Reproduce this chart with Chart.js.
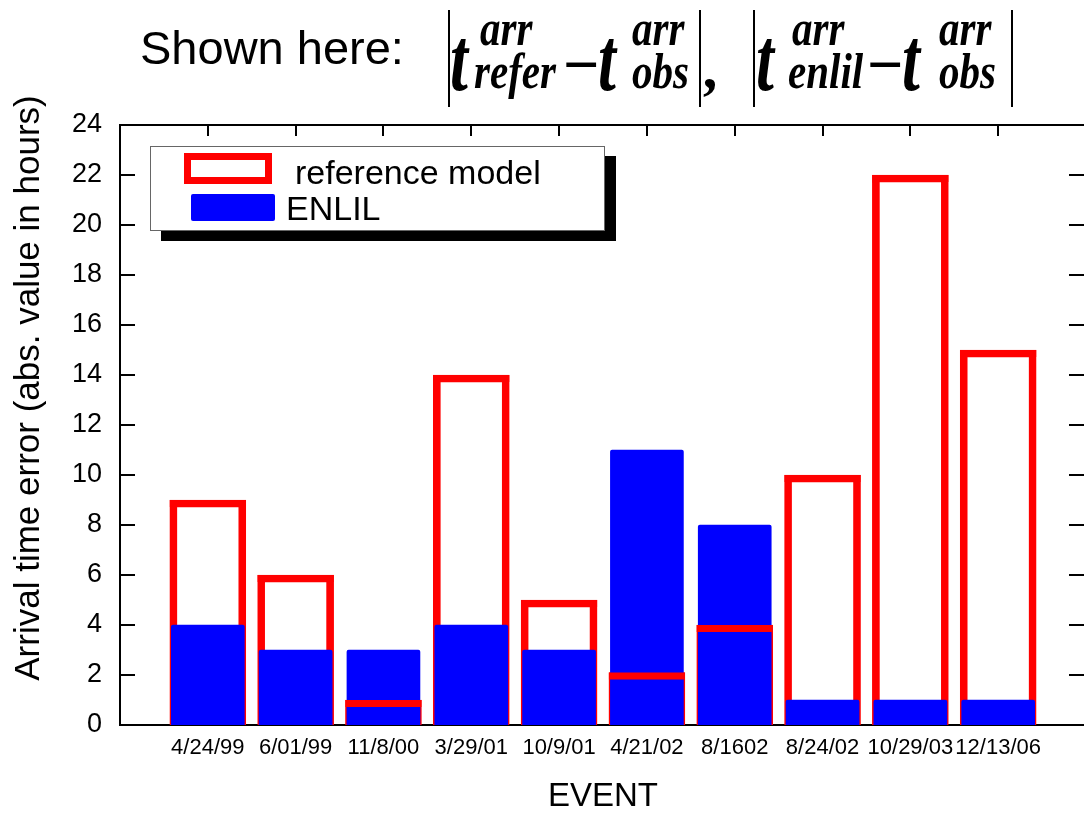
<!DOCTYPE html>
<html>
<head>
<meta charset="utf-8">
<script src="https://cdn.jsdelivr.net/npm/chart.js@4.4.1/dist/chart.umd.min.js"></script>
<style>
  body { margin: 0; width: 1084px; height: 813px; overflow: hidden; position: relative; background: #fff; }
  #wrap { position: absolute; left: 0; top: 0; }
  .txt { position: absolute; line-height: 1; white-space: nowrap; color: #000; }
  .sans { font-family: "Liberation Sans", Arial, sans-serif; }
  .m { font-family: "Liberation Serif", "Times New Roman", serif; font-style: italic; font-weight: bold; }
  .t { font-size: 92px; transform: scaleX(0.7); transform-origin: left top; }
  .s { font-size: 50px; transform: scaleX(0.82); transform-origin: left top; }
  .op { font-family: "Liberation Serif", "Times New Roman", serif; font-size: 64px; font-weight: bold; }
  .abs { position: absolute; top: 10px; height: 97px; border-left: 2px solid #000; }
  #ytitle { position: absolute; left: -273px; top: 368px; width: 600px; height: 40px; line-height: 40px;
    text-align: center; font-size: 35px; transform: rotate(-90deg); white-space: nowrap; }
  #legend { position: absolute; left: 150px; top: 146px; width: 455px; height: 85px; box-sizing: border-box;
    border: 1px solid #666; background: #fff; box-shadow: 11px 10px 0 #000; }
  #legend .sw { position: absolute; box-sizing: border-box; }
  #legend .lb { position: absolute; font-size: 34px; line-height: 1; white-space: nowrap; }
</style>
</head>
<body>
<div id="wrap"><canvas id="myChart" width="1100" height="813"></canvas></div>

<div id="title">
  <span class="txt sans" style="left:140px; top:24px; font-size:47px;">Shown here:</span>
  <span class="abs" style="left:448px;"></span>
  <span class="txt m t" style="left:450px; top:13px;">t</span>
  <span class="txt m s" style="left:480px; top:3px;">arr</span>
  <span class="txt m s" style="left:474px; top:46px;">refer</span>
  <span class="txt op" style="left:563px; top:33px;">−</span>
  <span class="txt m t" style="left:598px; top:13px;">t</span>
  <span class="txt m s" style="left:632px; top:3px;">arr</span>
  <span class="txt m s" style="left:632px; top:46px;">obs</span>
  <span class="abs" style="left:699px;"></span>
  <span class="txt m" style="left:705px; top:38px; font-size:60px;">,</span>
  <span class="abs" style="left:753px;"></span>
  <span class="txt m t" style="left:756px; top:13px;">t</span>
  <span class="txt m s" style="left:792px; top:3px;">arr</span>
  <span class="txt m s" style="left:788px; top:46px;">enlil</span>
  <span class="txt op" style="left:867px; top:33px;">−</span>
  <span class="txt m t" style="left:902px; top:13px;">t</span>
  <span class="txt m s" style="left:939px; top:3px;">arr</span>
  <span class="txt m s" style="left:939px; top:46px;">obs</span>
  <span class="abs" style="left:1011px;"></span>
</div>

<div id="ytitle" class="sans">Arrival time error (abs. value in hours)</div>
<div id="legend" class="sans"></div>

<script>
const events = ['4/24/99', '6/01/99', '11/8/00', '3/29/01', '10/9/01', '4/21/02', '8/1602', '8/24/02', '10/29/03', '12/13/06']
const referenceModel = [9, 6, 1, 14, 5, 2.1, 4, 10, 22, 15]
const enlil = [4, 3, 3, 4, 3, 11, 8, 1, 1, 1]
const seriesNames = ['reference model', 'ENLIL']
const yMin = 0, yMax = 24, yStep = 2
const xAxisTitle = 'EVENT'

const RED = '#ff0000'
const BLUE = '#0000ff'
const FONT = '"Liberation Sans", Arial, sans-serif'

// events sit at 1..n on a linear axis that runs from 0 to n+1
const points = (vals) => vals.map((v, i) => ({ x: i + 1, y: v }))

const frame = {
  id: 'frame',
  beforeDatasetsDraw(chart) {
    const { ctx, chartArea: a, scales: { x, y } } = chart
    ctx.save()
    ctx.strokeStyle = '#000'
    ctx.lineWidth = 2
    ctx.strokeRect(a.left, a.top, a.right - a.left, a.bottom - a.top)
    ctx.beginPath()
    y.ticks.forEach(t => {
      const py = Math.round(y.getPixelForValue(t.value))
      ctx.moveTo(a.left, py); ctx.lineTo(a.left + 15, py)
      ctx.moveTo(a.right - 17, py); ctx.lineTo(a.right, py)
    })
    events.forEach((e, i) => {
      const px = Math.round(x.getPixelForValue(i + 1))
      ctx.moveTo(px, a.top); ctx.lineTo(px, a.top + 11)
      ctx.moveTo(px, a.bottom); ctx.lineTo(px, a.bottom - 11)
    })
    ctx.stroke()
    ctx.restore()
  },
  afterDatasetsDraw(chart) {
    // the top edge of the outlined bars stays visible over the filled ones
    const { ctx } = chart
    const ds = chart.data.datasets[0]
    ctx.save()
    ctx.fillStyle = ds.borderColor
    chart.getDatasetMeta(0).data.forEach(bar => {
      ctx.fillRect(bar.x - bar.width / 2, bar.y, bar.width, ds.borderWidth)
    })
    ctx.restore()
  }
}

const data = {
  datasets: [
    {
      label: seriesNames[0],
      data: points(referenceModel),
      backgroundColor: 'rgba(0,0,0,0)',
      borderColor: RED,
      borderWidth: 7,
      borderSkipped: 'bottom',
      barThickness: 76,
      order: 2
    },
    {
      label: seriesNames[1],
      data: points(enlil),
      backgroundColor: BLUE,
      borderWidth: 0,
      borderRadius: 2,
      barThickness: 73,
      order: 1
    }
  ]
}

const config = {
  type: 'bar',
  data: data,
  plugins: [frame],
  options: {
    responsive: false,
    animation: false,
    events: [],
    layout: { padding: { top: 125, right: 14, left: 0, bottom: 0 } },
    datasets: { bar: { grouped: false } },
    plugins: {
      legend: { display: false },
      tooltip: { enabled: false }
    },
    scales: {
      x: {
        type: 'linear',
        offset: false,
        min: 0,
        max: events.length + 1,
        grid: { display: false, drawTicks: false, offset: false },
        border: { display: false },
        ticks: {
          stepSize: 1,
          autoSkip: false,
          maxRotation: 0,
          maxTicksLimit: 50,
          padding: 10,
          color: '#000',
          font: { family: FONT, size: 22 },
          callback: (v) => events[v - 1] || ''
        },
        title: {
          display: true,
          text: xAxisTitle,
          color: '#000',
          font: { family: FONT, size: 33, lineHeight: 1 },
          padding: { top: 0, bottom: 0 }
        },
        afterFit: (scale) => { scale.height = 88 }
      },
      y: {
        min: yMin,
        max: yMax,
        grid: { display: false, drawTicks: false },
        border: { display: false },
        ticks: {
          stepSize: yStep,
          padding: 18,
          color: '#000',
          font: { family: FONT, size: 27 }
        },
        afterFit: (scale) => { scale.width = 120 }
      }
    }
  }
}

const chart = new Chart(document.getElementById('myChart'), config)

// legend box with a drop shadow, built from the datasets
const legendRows = [
  { sw: { left: 33, top: 6, width: 88, height: 31 }, lb: { left: 144, top: 8 } },
  { sw: { left: 40, top: 47, width: 84, height: 27 }, lb: { left: 135, top: 44 } }
]
const legendEl = document.getElementById('legend')
chart.data.datasets.forEach((ds, i) => {
  const row = legendRows[i]
  const sw = document.createElement('div')
  sw.className = 'sw'
  Object.assign(sw.style, {
    left: row.sw.left + 'px', top: row.sw.top + 'px',
    width: row.sw.width + 'px', height: row.sw.height + 'px'
  })
  if (ds.borderWidth) {
    sw.style.border = ds.borderWidth + 'px solid ' + ds.borderColor
  } else {
    sw.style.background = ds.backgroundColor
    sw.style.borderRadius = '2px'
  }
  const lb = document.createElement('div')
  lb.className = 'lb'
  lb.style.left = row.lb.left + 'px'
  lb.style.top = row.lb.top + 'px'
  lb.textContent = ds.label
  legendEl.appendChild(sw)
  legendEl.appendChild(lb)
})
</script>
</body>
</html>
